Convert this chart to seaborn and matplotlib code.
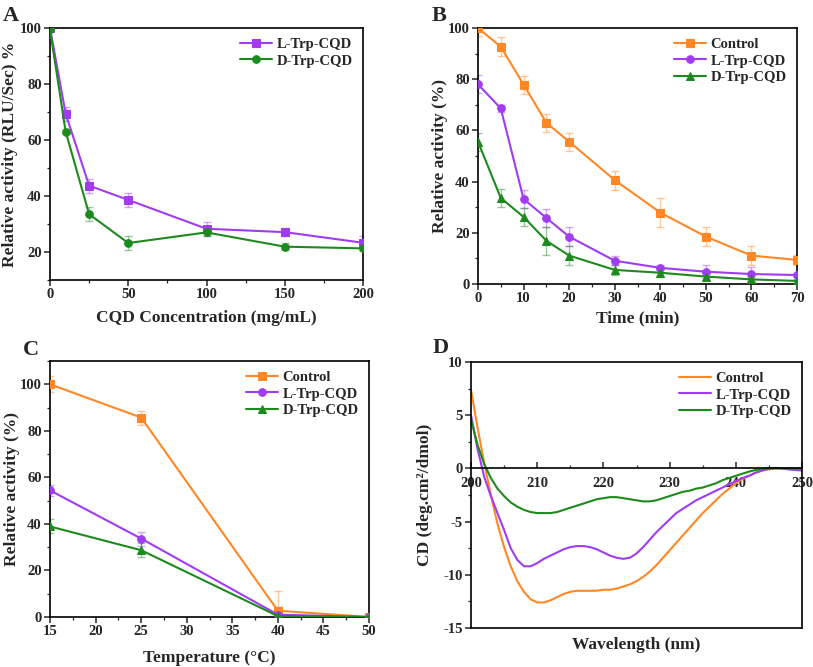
import matplotlib
matplotlib.use('Agg')
import matplotlib.pyplot as plt
import seaborn as sns
import numpy as np
import pandas as pd
from matplotlib.ticker import AutoMinorLocator

sns.set_style('ticks')
plt.rcParams['font.family'] = ['Liberation Serif', 'DejaVu Serif']
plt.rcParams['font.weight'] = 'bold'
plt.rcParams['axes.labelweight'] = 'bold'
plt.rcParams['axes.unicode_minus'] = False

ORANGE = '#FF8726'
PURPLE = '#A13CF2'
GREEN = '#1E8A1E'

# ---- Panel A: CQD concentration ----
conc = [0, 10, 25, 50, 100, 150, 200]
a_L = [100.0, 69.4, 43.7, 38.6, 28.3, 27.1, 23.3]
a_L_err = [0.5, 2.5, 2.5, 2.5, 2.5, 1.5, 2.5]
a_D = [99.5, 63.0, 33.5, 23.2, 27.0, 21.9, 21.3]
a_D_err = [0.5, 1.0, 2.5, 2.5, 1.3, 1.2, 1.0]

# ---- Panel B: time ----
time_min = [0, 5, 10, 15, 20, 30, 40, 50, 60, 70]
b_ctrl = [100.0, 92.7, 77.9, 63.0, 55.6, 40.6, 27.9, 18.5, 11.1, 9.4]
b_ctrl_err = [3.0, 3.6, 3.5, 3.5, 3.5, 3.7, 5.5, 3.6, 3.7, 2.0]
b_L = [78.0, 68.6, 33.2, 25.8, 18.5, 9.1, 6.3, 4.8, 3.9, 3.5]
b_L_err = [3.5, 1.5, 3.5, 3.6, 3.6, 1.8, 1.0, 2.5, 2.7, 0.8]
b_D = [55.6, 33.6, 26.2, 16.9, 11.1, 5.5, 4.4, 2.9, 1.8, 1.2]
b_D_err = [3.5, 3.5, 3.6, 5.5, 3.6, 1.8, 1.8, 1.5, 1.0, 0.8]

# ---- Panel C: temperature ----
temp = [15, 25, 40, 50]
c_ctrl = [100.0, 85.7, 2.7, 0.0]
c_ctrl_err = [3.5, 3.0, 8.5, 0.5]
c_L = [54.4, 33.7, 1.0, 0.0]
c_L_err = [2.5, 3.0, 3.5, 0.3]
c_D = [38.9, 28.7, 0.4, 0.0]
c_D_err = [3.0, 3.0, 0.5, 0.3]

# ---- Panel D: CD spectra ----
wavelength = list(range(200, 251))
cd_ctrl = [7.4, 3.8, 0.5, -2.5, -5.2, -7.4, -9.2, -10.6, -11.6, -12.3,
           -12.6, -12.6, -12.4, -12.1, -11.8, -11.6, -11.5, -11.5, -11.5, -11.5,
           -11.4, -11.4, -11.3, -11.1, -10.9, -10.6, -10.2, -9.7, -9.1, -8.4,
           -7.7, -7.0, -6.3, -5.6, -4.9, -4.2, -3.6, -3.0, -2.4, -1.9,
           -1.4, -1.0, -0.7, -0.4, -0.2, -0.1, 0.0, 0.0, 0.0, -0.1, -0.1]
cd_L = [5.0, 1.8, -0.8, -2.6, -4.2, -5.8, -7.5, -8.6, -9.2, -9.2,
        -8.9, -8.5, -8.2, -7.9, -7.6, -7.4, -7.3, -7.3, -7.4, -7.6,
        -7.9, -8.2, -8.4, -8.5, -8.4, -8.0, -7.4, -6.7, -6.0, -5.4,
        -4.8, -4.2, -3.8, -3.4, -3.0, -2.7, -2.4, -2.1, -1.8, -1.5,
        -1.2, -0.9, -0.7, -0.4, -0.2, 0.0, 0.05, 0.0, -0.1, -0.15, -0.2]
cd_D = [4.6, 2.2, 0.4, -0.9, -1.9, -2.6, -3.2, -3.6, -3.9, -4.1,
        -4.2, -4.2, -4.2, -4.1, -3.9, -3.7, -3.5, -3.3, -3.1, -2.9,
        -2.8, -2.7, -2.7, -2.8, -2.9, -3.0, -3.1, -3.1, -3.0, -2.8,
        -2.6, -2.4, -2.2, -2.1, -1.9, -1.8, -1.6, -1.4, -1.1, -0.9,
        -0.7, -0.5, -0.3, -0.15, -0.05, 0.0, 0.0, 0.0, 0.0, 0.0, 0.0]

W, H = 813, 667
fig = plt.figure(figsize=(W / 100, H / 100), dpi=100)


def box(l, t, r, b):
    return [l / W, 1 - b / H, (r - l) / W, (b - t) / H]


def style_axes(ax):
    for s in ax.spines.values():
        s.set_visible(True)
        s.set_color('black')
        s.set_linewidth(1.2)
    ax.tick_params(which='major', direction='out', length=4, width=1.1,
                   labelsize=10.5, top=False, right=False, pad=2)
    ax.tick_params(which='minor', direction='out', length=2.2, width=0.9,
                   top=False, right=False)
    for lab in ax.get_xticklabels() + ax.get_yticklabels():
        lab.set_fontweight('bold')


def series(ax, x, y, err, color, marker, label):
    ax.errorbar(x, y, yerr=err, fmt='none', ecolor=color, alpha=0.45,
                elinewidth=1.0, capsize=3, capthick=1.0, zorder=1)
    sns.lineplot(x=x, y=y, ax=ax, color=color, marker=marker, markersize=5.5,
                 markeredgecolor=color, linewidth=1.5, label=label, zorder=3)


def legend(ax):
    ax.legend(loc='upper right', frameon=False, handlelength=2.2,
              handletextpad=0.3, labelspacing=0.2, borderaxespad=0.3,
              prop={'weight': 'bold', 'size': 10.5})


# A
axA = fig.add_axes(box(50, 28, 363, 280))
series(axA, conc, a_L, a_L_err, PURPLE, 's', 'L-Trp-CQD')
series(axA, conc, a_D, a_D_err, GREEN, 'o', 'D-Trp-CQD')
axA.set_xlim(0, 200)
axA.set_ylim(10, 100)
axA.set_xticks([0, 50, 100, 150, 200])
axA.set_yticks([20, 40, 60, 80, 100])
axA.xaxis.set_minor_locator(AutoMinorLocator(2))
axA.yaxis.set_minor_locator(AutoMinorLocator(2))
axA.set_xlabel('CQD Concentration (mg/mL)', fontsize=12.5)
axA.set_ylabel('Relative activity (RLU/Sec) %', fontsize=12.5)
axA.xaxis.set_label_coords(0.5, -0.12)
axA.yaxis.set_label_coords(-0.102, 0.5)
style_axes(axA)
legend(axA)

# B
axB = fig.add_axes(box(478, 28, 797, 284))
series(axB, time_min, b_ctrl, b_ctrl_err, ORANGE, 's', 'Control')
series(axB, time_min, b_L, b_L_err, PURPLE, 'o', 'L-Trp-CQD')
series(axB, time_min, b_D, b_D_err, GREEN, '^', 'D-Trp-CQD')
axB.set_xlim(0, 70)
axB.set_ylim(0, 100)
axB.set_xticks(list(range(0, 71, 10)))
axB.set_yticks([0, 20, 40, 60, 80, 100])
axB.xaxis.set_minor_locator(AutoMinorLocator(2))
axB.yaxis.set_minor_locator(AutoMinorLocator(2))
axB.set_xlabel('Time (min)', fontsize=12.5)
axB.set_ylabel('Relative activity (%)', fontsize=12.5)
axB.xaxis.set_label_coords(0.5, -0.105)
axB.yaxis.set_label_coords(-0.094, 0.5)
style_axes(axB)
legend(axB)

# C
axC = fig.add_axes(box(50, 361, 369, 617))
series(axC, temp, c_ctrl, c_ctrl_err, ORANGE, 's', 'Control')
series(axC, temp, c_L, c_L_err, PURPLE, 'o', 'L-Trp-CQD')
series(axC, temp, c_D, c_D_err, GREEN, '^', 'D-Trp-CQD')
axC.set_xlim(15, 50)
axC.set_ylim(0, 110)
axC.set_xticks(list(range(15, 51, 5)))
axC.set_yticks([0, 20, 40, 60, 80, 100])
axC.xaxis.set_minor_locator(AutoMinorLocator(2))
axC.yaxis.set_minor_locator(AutoMinorLocator(2))
axC.set_xlabel('Temperature (°C)', fontsize=12.5)
axC.set_ylabel('Relative activity (%)', fontsize=12.5)
axC.xaxis.set_label_coords(0.5, -0.128)
axC.yaxis.set_label_coords(-0.094, 0.5)
style_axes(axC)
legend(axC)

# D
axD = fig.add_axes(box(471, 362, 802, 628))
sns.lineplot(x=wavelength, y=cd_ctrl, ax=axD, color=ORANGE, linewidth=1.5, label='Control')
sns.lineplot(x=wavelength, y=cd_L, ax=axD, color=PURPLE, linewidth=1.5, label='L-Trp-CQD')
sns.lineplot(x=wavelength, y=cd_D, ax=axD, color=GREEN, linewidth=1.5, label='D-Trp-CQD')
axD.set_xlim(200, 250)
axD.set_ylim(-15, 10)
axD.set_xticks(list(range(200, 251, 10)))
axD.set_yticks([-15, -10, -5, 0, 5, 10])
axD.xaxis.set_minor_locator(AutoMinorLocator(2))
axD.yaxis.set_minor_locator(AutoMinorLocator(2))
axD.set_xlabel('Wavelength (nm)', fontsize=12.5)
axD.set_ylabel('CD (deg.cm²/dmol)', fontsize=12.5)
style_axes(axD)
axD.spines['bottom'].set_position(('data', 0))
axD.tick_params(axis='x', which='both', direction='in', pad=6)
axD.plot([0, 1], [0, 0], transform=axD.transAxes, color='black', lw=1.2, clip_on=False)
axD.xaxis.set_label_coords(0.5, -0.035)
axD.yaxis.set_label_coords(-0.115, 0.5)
legend(axD)

for txt, (x, y) in zip(['A', 'B', 'C', 'D'], [(3, 6), (432, 6), (23, 340), (433, 338)]):
    fig.text(x / W, 1 - y / H, txt, fontsize=16, fontweight='bold', va='top', ha='left')

fig.savefig('out.png', dpi=100)
